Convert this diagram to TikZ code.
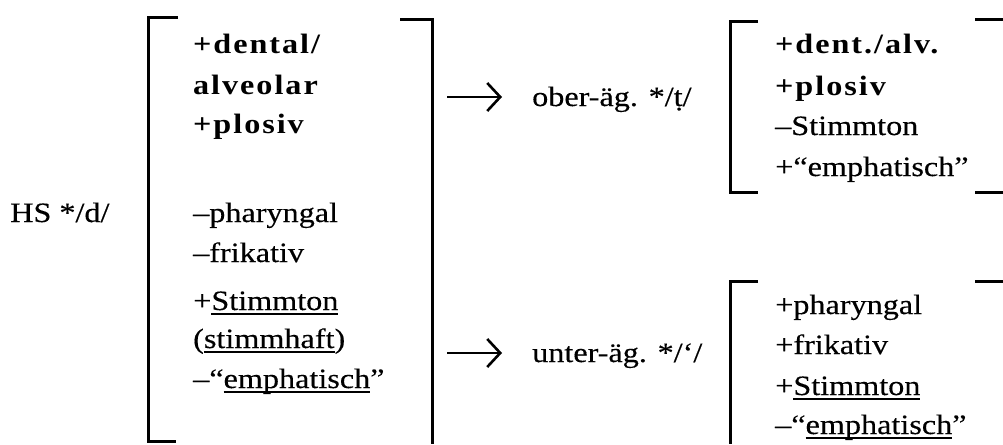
\documentclass[tikz,border=0pt]{standalone}
\usepackage{fontspec}
\setmainfont{Liberation Serif}[FakeStretch=1.15,FakeBold=0.3]
\newfontfamily\spacedbold{Liberation Serif}[FakeStretch=1.15,LetterSpace=7]
\usetikzlibrary{arrows.meta}

% underline with a heavier rule set a little below the baseline
\newsavebox\ulbox
\newcommand\ulword[1]{\sbox\ulbox{#1}\rlap{\raisebox{-4.5pt}{\rule{\wd\ulbox}{1.5pt}}}\usebox\ulbox}
\newcommand\feat[1]{{\spacedbold\bfseries #1}}

\begin{document}
\begin{tikzpicture}[x=1pt,y=-1pt,
  every node/.style={inner sep=0pt, font=\fontsize{28}{40}\selectfont},
  featline/.style={anchor=base west},
  bracket/.style={line width=3pt, line join=miter, line cap=butt},
  arr/.style={line width=2.6pt, -{Straight Barb[length=13pt,width=28pt,line width=2.6pt]}}]
\useasboundingbox (0,0) rectangle (1003,444);

% source segment
\node[featline] (hs) at (10,222) {HS */d/};

% big feature matrix
\draw[bracket] (178,18) -| (148,441) -- (176,441);
\draw[bracket] (400,20) -| (432,444);
\node[featline] (b1) at (193,53)  {\feat{+dental/}};
\node[featline] (b2) at (193,94)  {\feat{alveolar}};
\node[featline] (b3) at (193,133) {\feat{+plosiv}};
\node[featline] (b4) at (193,222) {–pharyngal};
\node[featline] (b5) at (193,262) {–frikativ};
\node[featline] (b6) at (193,310) {+\ulword{Stimmton}};
\node[featline] (b7) at (193,348) {(\ulword{stimmhaft})};
\node[featline] (b8) at (193,388) {–“\ulword{emphatisch}”};

% reflexes
\node[featline] (ober)  at (532,106) {ober-äg. */\d{t}/};
\node[featline] (unter) at (532,362) {unter-äg. */‘/};
\coordinate (a1) at (447,97);
\coordinate (a2) at (447,353);
\draw[arr] (a1) -- ([xshift=-30pt]a1 -| ober.west);
\draw[arr] (a2) -- ([xshift=-30pt]a2 -| unter.west);

% upper matrix
\draw[bracket] (758,22) -| (730,192) -- (758,192);
\draw[bracket] (975,20) -- (1003,20);
\draw[bracket] (975,192) -- (1003,192);
\node[featline] (u1) at (775,54)  {\feat{+dent./alv.}};
\node[featline] (u2) at (775,95)  {\feat{+plosiv}};
\node[featline] (u3) at (775,135) {–Stimmton};
\node[featline] (u4) at (775,176) {+“emphatisch”};

% lower matrix
\draw[bracket] (758,281) -| (730,444);
\draw[bracket] (975,281) -- (1003,281);
\node[featline] (l1) at (775,314) {+pharyngal};
\node[featline] (l2) at (775,354) {+frikativ};
\node[featline] (l3) at (775,395) {+\ulword{Stimmton}};
\node[featline] (l4) at (775,434) {–“\ulword{emphatisch}”};
\end{tikzpicture}
\end{document}
